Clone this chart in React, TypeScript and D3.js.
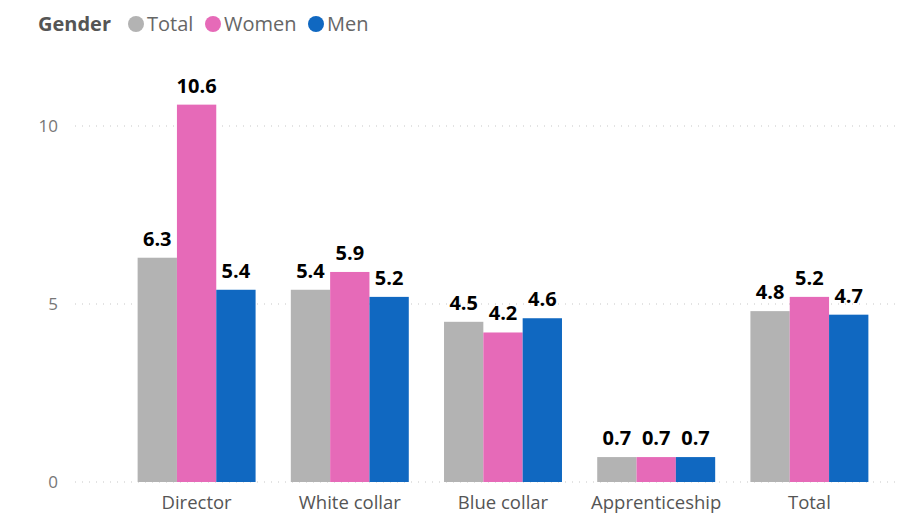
import { scaleBand, scaleLinear } from "d3"

const categories = ["Director", "White collar", "Blue collar", "Apprenticeship", "Total"]
const seriesNames = ["Total", "Women", "Men"]
const totalValues = [6.3, 5.4, 4.5, 0.7, 4.8]
const womenValues = [10.6, 5.9, 4.2, 0.7, 5.2]
const menValues = [5.4, 5.2, 4.6, 0.7, 4.7]
const yTicks = [0, 5, 10]
const colors = ["#B3B3B3", "#E66AB8", "#1068C1"]

const FONT = "'Segoe UI', 'Open Sans', sans-serif"

export default function App() {
  const W = 903
  const H = 513
  const series = [totalValues, womenValues, menValues]

  const x = scaleBand<string>().domain(categories).range([120, 886]).paddingInner(0.23).paddingOuter(0.115)
  const xs = scaleBand<string>().domain(seriesNames).range([0, x.bandwidth()])
  const y = scaleLinear().domain([0, 10]).range([482, 126])

  const legendItems = [
    { name: "Total", x: 128 },
    { name: "Women", x: 205 },
    { name: "Men", x: 308 }
  ]

  return (
    <svg width={W} height={H} style={{ position: "absolute", left: 0, top: 0, background: "#fff" }}>
      {/* legend */}
      <text x={38} y={31} fontFamily={FONT} fontSize={20} fontWeight={700} fill="#555">Gender</text>
      {legendItems.map((d, i) => (
        <g key={d.name}>
          <circle cx={d.x + 8} cy={24} r={8} fill={colors[i]} />
          <text x={d.x + 19} y={31} fontFamily={FONT} fontSize={20} fill="#666">{d.name}</text>
        </g>
      ))}

      {/* grid + y axis */}
      {yTicks.map(t => (
        <g key={t}>
          <line x1={75} x2={895} y1={y(t)} y2={y(t)} stroke="#C8C8C8" strokeWidth={1.2} strokeDasharray="1 6" />
          <text x={58} y={y(t) + 6} textAnchor="end" fontFamily={FONT} fontSize={17} fill="#777">{t}</text>
        </g>
      ))}

      {/* bars */}
      {categories.map((c, ci) => (
        <g key={c} transform={`translate(${x(c)},0)`}>
          {seriesNames.map((s, si) => {
            const v = series[si][ci]
            return (
              <g key={s}>
                <rect x={xs(s)} y={y(v)} width={xs.bandwidth()} height={y(0) - y(v)} fill={colors[si]} />
                <text x={(xs(s) ?? 0) + xs.bandwidth() / 2} y={y(v) - 12} textAnchor="middle"
                  fontFamily={FONT} fontSize={20} fontWeight={700} fill="#000">{v.toFixed(1)}</text>
              </g>
            )
          })}
          <text x={x.bandwidth() / 2} y={509} textAnchor="middle" fontFamily={FONT} fontSize={18.5} fill="#555">{c}</text>
        </g>
      ))}
    </svg>
  )
}
